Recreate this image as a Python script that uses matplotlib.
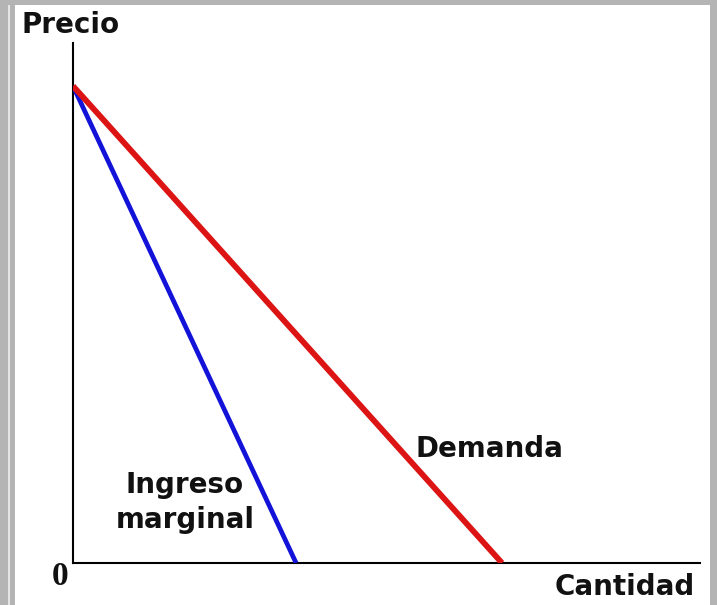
import matplotlib
matplotlib.use("Agg")
import matplotlib.pyplot as plt
from matplotlib.patches import Rectangle

# Data (arbitrary units)
demand_q = [0, 10]
demand_p = [10, 0]
mr_q = [0, 5.2]
mr_p = [10, 0]

W, H = 717, 605
fig = plt.figure(figsize=(W / 100, H / 100), dpi=100)
fig.patch.set_facecolor("white")

def fx(px):
    return px / W

def fy(py):
    return 1 - py / H

# gray frame
gray = "#b4b4b4"
for (x0, y0, w, h, c) in [
    (0, 0, 8, H, gray),
    (8, 0, 1.5, H, "#e4e4e4"),
    (9.5, 0, 5.5, H, gray),
    (0, 0, W, 5, gray),
    (710, 0, 7, H, gray),
]:
    fig.patches.append(Rectangle((fx(x0), fy(y0 + h)), w / W, h / H,
                                 transform=fig.transFigure, facecolor=c,
                                 edgecolor="none", zorder=0))

# axes: left at x=73, bottom at y=563, right at 700, top at 43
ax = fig.add_axes([fx(73), fy(563), (700 - 73) / W, (563 - 43) / H])
ax.set_facecolor("none")
x_max = 10 * (700 - 73) / (502 - 73)
y_max = 10 * (563 - 43) / (563 - 86)
ax.set_xlim(0, x_max)
ax.set_ylim(0, y_max)
for s in ["top", "right"]:
    ax.spines[s].set_visible(False)
for s in ["left", "bottom"]:
    ax.spines[s].set_linewidth(1.5)
    ax.spines[s].set_color("black")
ax.set_xticks([])
ax.set_yticks([])

ax.plot(mr_q, mr_p, color="#1212d8", lw=3.4, solid_capstyle="butt", zorder=3)
ax.plot(demand_q, demand_p, color="#dc1414", lw=4.2, solid_capstyle="butt", zorder=4)

bold = dict(family="DejaVu Sans", fontweight="bold", fontsize=20, color="#111111")
fig.text(fx(21), fy(33), "Precio", ha="left", va="baseline", **bold)
fig.text(fx(695), fy(595), "Cantidad", ha="right", va="baseline", **bold)
fig.text(fx(415), fy(457), "Demanda", ha="left", va="baseline", **bold)
fig.text(fx(185), fy(493), "Ingreso", ha="center", va="baseline", **bold)
fig.text(fx(185), fy(528), "marginal", ha="center", va="baseline", **bold)
fig.text(fx(60), fy(585), "0", ha="center", va="baseline",
         family="Liberation Serif", fontweight="bold", fontsize=24, color="#111111")

fig.savefig("out.png", dpi=100, facecolor="white")
